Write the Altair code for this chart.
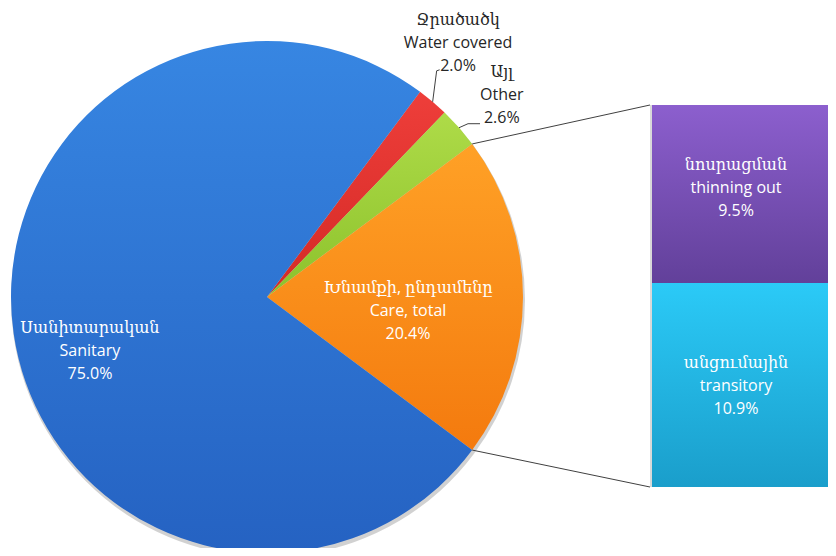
import math
import altair as alt
import pandas as pd

# ---- data ----
pie_cats = ["Water covered", "Other", "Care, total", "Sanitary"]
pie_arm = ["Ջրածածկ", "Այլ", "Խնամքի, ընդամենը", "Սանիտարական"]
pie_vals = [2.0, 2.6, 20.4, 75.0]

bar_cats = ["thinning out", "transitory"]
bar_arm = ["նոսրացման", "անցումային"]
bar_vals = [9.5, 10.9]

# ---- layout / style ----
W, H = 820, 540
CX, CY, R = 259, 289, 256
BAR_X0 = 644
BAR_TOP, BAR_BOT = 97, 479
FONT = "'Open Sans', 'DejaVu Serif', sans-serif"
FS = 16
LH = 23

pie_grad = {
    "Water covered": ("#ee3e3a", "#d42a26"),
    "Other": ("#aedb48", "#8cc22c"),
    "Care, total": ("#ffa126", "#f47a0e"),
    "Sanitary": ("#3786e2", "#2562c2"),
}
bar_grad = {
    "thinning out": ("#8c5fce", "#62409a"),
    "transitory": ("#2bcaf7", "#1a9ecb"),
}


def grad(c0, c1):
    return {
        "gradient": "linear",
        "x1": 0, "y1": 0, "x2": 0, "y2": 1,
        "stops": [{"offset": 0, "color": c0}, {"offset": 1, "color": c1}],
    }


total = sum(pie_vals)
cum = [sum(pie_vals[:i]) for i in range(len(pie_vals))]
care_i = pie_cats.index("Care, total")
# rotate so that the exploded slice ("Care, total") is centred on the right
start = math.pi / 2 - 2 * math.pi * (cum[care_i] + pie_vals[care_i] / 2) / total

pie_df = pd.DataFrame({
    "cat": pie_cats,
    "arm": pie_arm,
    "val": pie_vals,
    "c0": cum,
    "c1": [c + v for c, v in zip(cum, pie_vals)],
})
pie_df["mid"] = (pie_df["c0"] + pie_df["c1"]) / 2
pie_df["label"] = pie_df["arm"] + "\n" + pie_df["cat"] + "\n" + pie_df["val"].map(lambda v: f"{v:.1f}%")

theta_scale = alt.Scale(domain=[0, total], range=[start, start + 2 * math.pi])

layers = []

# soft shadow under the pie
layers.append(
    alt.Chart(pie_df).mark_arc(radius=R + 1, color="#000000", opacity=0.18).encode(
        theta=alt.Theta("c0:Q", scale=theta_scale),
        theta2="c1:Q",
        x=alt.value(CX + 1), y=alt.value(CY + 3),
    )
)

# pie slices
for c in pie_cats:
    layers.append(
        alt.Chart(pie_df).transform_filter(alt.datum.cat == c)
        .mark_arc(radius=R, color=grad(*pie_grad[c]))
        .encode(
            theta=alt.Theta("c0:Q", scale=theta_scale),
            theta2="c1:Q",
            x=alt.value(CX), y=alt.value(CY),
        )
    )

# bar segments (stacked bottom to top: transitory, thinning out)
bar_total = sum(bar_vals)
bar_df = pd.DataFrame({
    "cat": bar_cats,
    "arm": bar_arm,
    "val": bar_vals,
})
bar_df["b0"] = [bar_vals[1], 0.0]
bar_df["b1"] = [bar_total, bar_vals[1]]
bar_df["bmid"] = (bar_df["b0"] + bar_df["b1"]) / 2
bar_df["label"] = bar_df["arm"] + "\n" + bar_df["cat"] + "\n" + bar_df["val"].map(lambda v: f"{v:.1f}%")

y_scale = alt.Scale(domain=[0, bar_total], range=[BAR_BOT, BAR_TOP])

# bar shadow
layers.append(
    alt.Chart(bar_df).mark_bar(color="#000000", opacity=0.15).encode(
        x=alt.value(BAR_X0 - 2), x2=alt.value(W),
        y=alt.Y("b0:Q", scale=y_scale, axis=None),
        y2="b1:Q",
    )
)

for c in bar_cats:
    layers.append(
        alt.Chart(bar_df).transform_filter(alt.datum.cat == c)
        .mark_bar(color=grad(*bar_grad[c]))
        .encode(
            x=alt.value(BAR_X0), x2=alt.value(W),
            y=alt.Y("b0:Q", scale=y_scale, axis=None),
            y2="b1:Q",
        )
    )

# connector lines from the exploded slice to the bar
def ppt(angle_val, r=R):
    a = start + 2 * math.pi * angle_val / total
    return CX + r * math.sin(a), CY - r * math.cos(a)

def ymap(v):
    return BAR_BOT + (BAR_TOP - BAR_BOT) * v / bar_total

p_top = ppt(pie_df.loc[care_i, "c0"])
p_bot = ppt(pie_df.loc[care_i, "c1"])
conn_df = pd.DataFrame({
    "px": [p_top[0], p_bot[0]],
    "py": [p_top[1], p_bot[1]],
    "qx": [BAR_X0 - 2, BAR_X0 - 2],
    "qy": [ymap(bar_total), ymap(0)],
})
layers.append(
    alt.Chart(conn_df).mark_rule(color="#404040", strokeWidth=1).encode(
        x=alt.X("px:Q", scale=None), y=alt.Y("py:Q", scale=None),
        x2="qx:Q", y2="qy:Q",
    )
)

# leader lines for the two small outside labels
lead_rows = []
for c, elbow, end in [("Water covered", (4, -31), (7, -32)), ("Other", (9, -4), (21, -4))]:
    i = pie_cats.index(c)
    ax, ay = ppt(pie_df.loc[i, "mid"])
    for k, (x, y) in enumerate([(ax, ay), (ax + elbow[0], ay + elbow[1]), (ax + end[0], ay + end[1])]):
        lead_rows.append({"cat": c, "k": k, "x": x, "y": y})
lead_df = pd.DataFrame(lead_rows)
layers.append(
    alt.Chart(lead_df).mark_line(color="#404040", strokeWidth=1).encode(
        x=alt.X("x:Q", scale=None), y=alt.Y("y:Q", scale=None),
        detail="cat:N", order="k:Q",
    )
)

# pie labels (first line is placed at the anchor, so shift up by one line)
pie_label_layout = {
    "Sanitary": (185, 6, 27 - LH, "#ffffff"),
    "Care, total": (141, 0, 14 - LH, "#ffffff"),
    "Water covered": (320, -16, -10 - LH, "#262626"),
    "Other": (309, 3, 2 - LH, "#262626"),
}
for c in pie_cats:
    r, dx, dy, col = pie_label_layout[c]
    layers.append(
        alt.Chart(pie_df).transform_filter(alt.datum.cat == c)
        .mark_text(radius=r, dx=dx, dy=dy, lineBreak="\n", lineHeight=LH,
                   font=FONT, fontSize=FS, color=col, align="center", baseline="middle")
        .encode(
            theta=alt.Theta("mid:Q", scale=theta_scale),
            x=alt.value(CX), y=alt.value(CY),
            text="label:N",
        )
    )

# bar labels
bar_label_dy = {"thinning out": -6 - LH, "transitory": 1 - LH}
for c in bar_cats:
    layers.append(
        alt.Chart(bar_df).transform_filter(alt.datum.cat == c)
        .mark_text(dy=bar_label_dy[c], lineBreak="\n", lineHeight=LH,
                   font=FONT, fontSize=FS, color="#ffffff", align="center", baseline="middle")
        .encode(
            x=alt.value(728),
            y=alt.Y("bmid:Q", scale=y_scale, axis=None),
            text="label:N",
        )
    )

chart = alt.layer(*layers).properties(
    width=W, height=H, padding=0,
    autosize=alt.AutoSizeParams(type="none"),
).configure_view(stroke=None)

chart.save("out.html", embed_options={"renderer": "svg", "actions": False})
